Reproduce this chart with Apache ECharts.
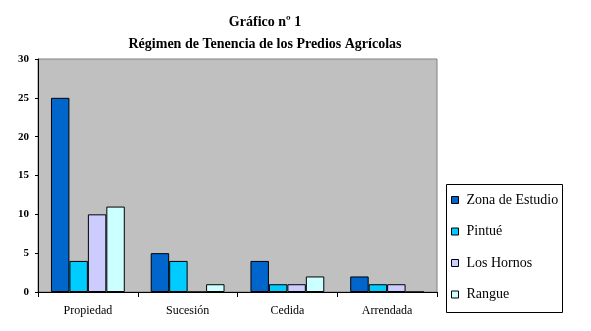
<!DOCTYPE html>
<html>
<head>
<meta charset="utf-8">
<script src="https://cdn.jsdelivr.net/npm/echarts@6/dist/echarts.min.js"></script>
<style>
  html, body { margin: 0; padding: 0; background: #ffffff; }
  #chart { width: 591px; height: 331px; }
</style>
</head>
<body>
<div id="chart"></div>
<script>
// Land tenure categories
const categories = ['Propiedad', 'Sucesión', 'Cedida', 'Arrendada'];

// Number of plots per zone
const zonaEstudio = [25, 5, 4, 2];
const pintue = [4, 4, 1, 1];
const losHornos = [10, 0, 1, 1];
const rangue = [11, 1, 2, 0];

const seriesNames = ['Zona de Estudio', 'Pintué', 'Los Hornos', 'Rangue'];
const seriesColors = ['#0066cc', '#00ccff', '#ccccff', '#ccffff'];
const seriesData = [zonaEstudio, pintue, losHornos, rangue];

const yTicks = [0, 5, 10, 15, 20, 25, 30];

const serif = '"Times New Roman", "Liberation Serif", "DejaVu Serif", serif';

const chart = echarts.init(document.getElementById('chart'), null, { renderer: 'canvas' });

chart.setOption({
  animation: false,
  backgroundColor: '#ffffff',
  title: [
    {
      text: 'Gráfico nº 1',
      left: 260, top: 10, textAlign: 'center',
      textStyle: { fontFamily: serif, fontSize: 14, fontWeight: 'bold', color: '#000' }
    },
    {
      text: 'Régimen de Tenencia de los Predios Agrícolas',
      left: 260, top: 32, textAlign: 'center',
      textStyle: { fontFamily: serif, fontSize: 14, fontWeight: 'bold', color: '#000' }
    }
  ],
  // frame around the legend
  graphic: [{
    type: 'rect',
    shape: { x: 446.5, y: 184.5, width: 116, height: 128 },
    style: { fill: '#fff', stroke: '#000', lineWidth: 1 },
    z: 0
  }],
  legend: {
    orient: 'vertical',
    left: 451, top: 193,
    padding: 0,
    itemGap: 17.5,
    itemWidth: 7, itemHeight: 7,
    icon: 'rect',
    textStyle: { fontFamily: serif, fontSize: 14, color: '#000', padding: [0, 0, 0, 3] },
    itemStyle: { borderColor: '#000', borderWidth: 1 },
    z: 5,
    data: seriesNames
  },
  grid: {
    left: 38, top: 59, right: 154, bottom: 39,
    show: true,
    backgroundColor: '#c0c0c0',
    borderColor: '#808080',
    borderWidth: 1
  },
  xAxis: {
    type: 'category',
    data: categories,
    axisLine: { lineStyle: { color: '#000', width: 1 } },
    axisTick: { show: true, length: 5, lineStyle: { color: '#000' } },
    axisLabel: { fontFamily: serif, fontSize: 12, color: '#000', margin: 13 },
    splitLine: { show: false }
  },
  yAxis: {
    type: 'value',
    min: yTicks[0], max: yTicks[yTicks.length - 1], interval: 5,
    axisLine: { show: true, lineStyle: { color: '#000', width: 1 } },
    axisTick: { show: true, length: 3, lineStyle: { color: '#000' } },
    axisLabel: { fontFamily: serif, fontSize: 11, fontWeight: 'bold', color: '#000', margin: 9 },
    splitLine: { show: false }
  },
  series: seriesData.map((d, i) => ({
    name: seriesNames[i],
    type: 'bar',
    data: d,
    barGap: '0%',
    barCategoryGap: '26%',
    itemStyle: { color: seriesColors[i], borderColor: '#000', borderWidth: 1 }
  }))
});
</script>
</body>
</html>
